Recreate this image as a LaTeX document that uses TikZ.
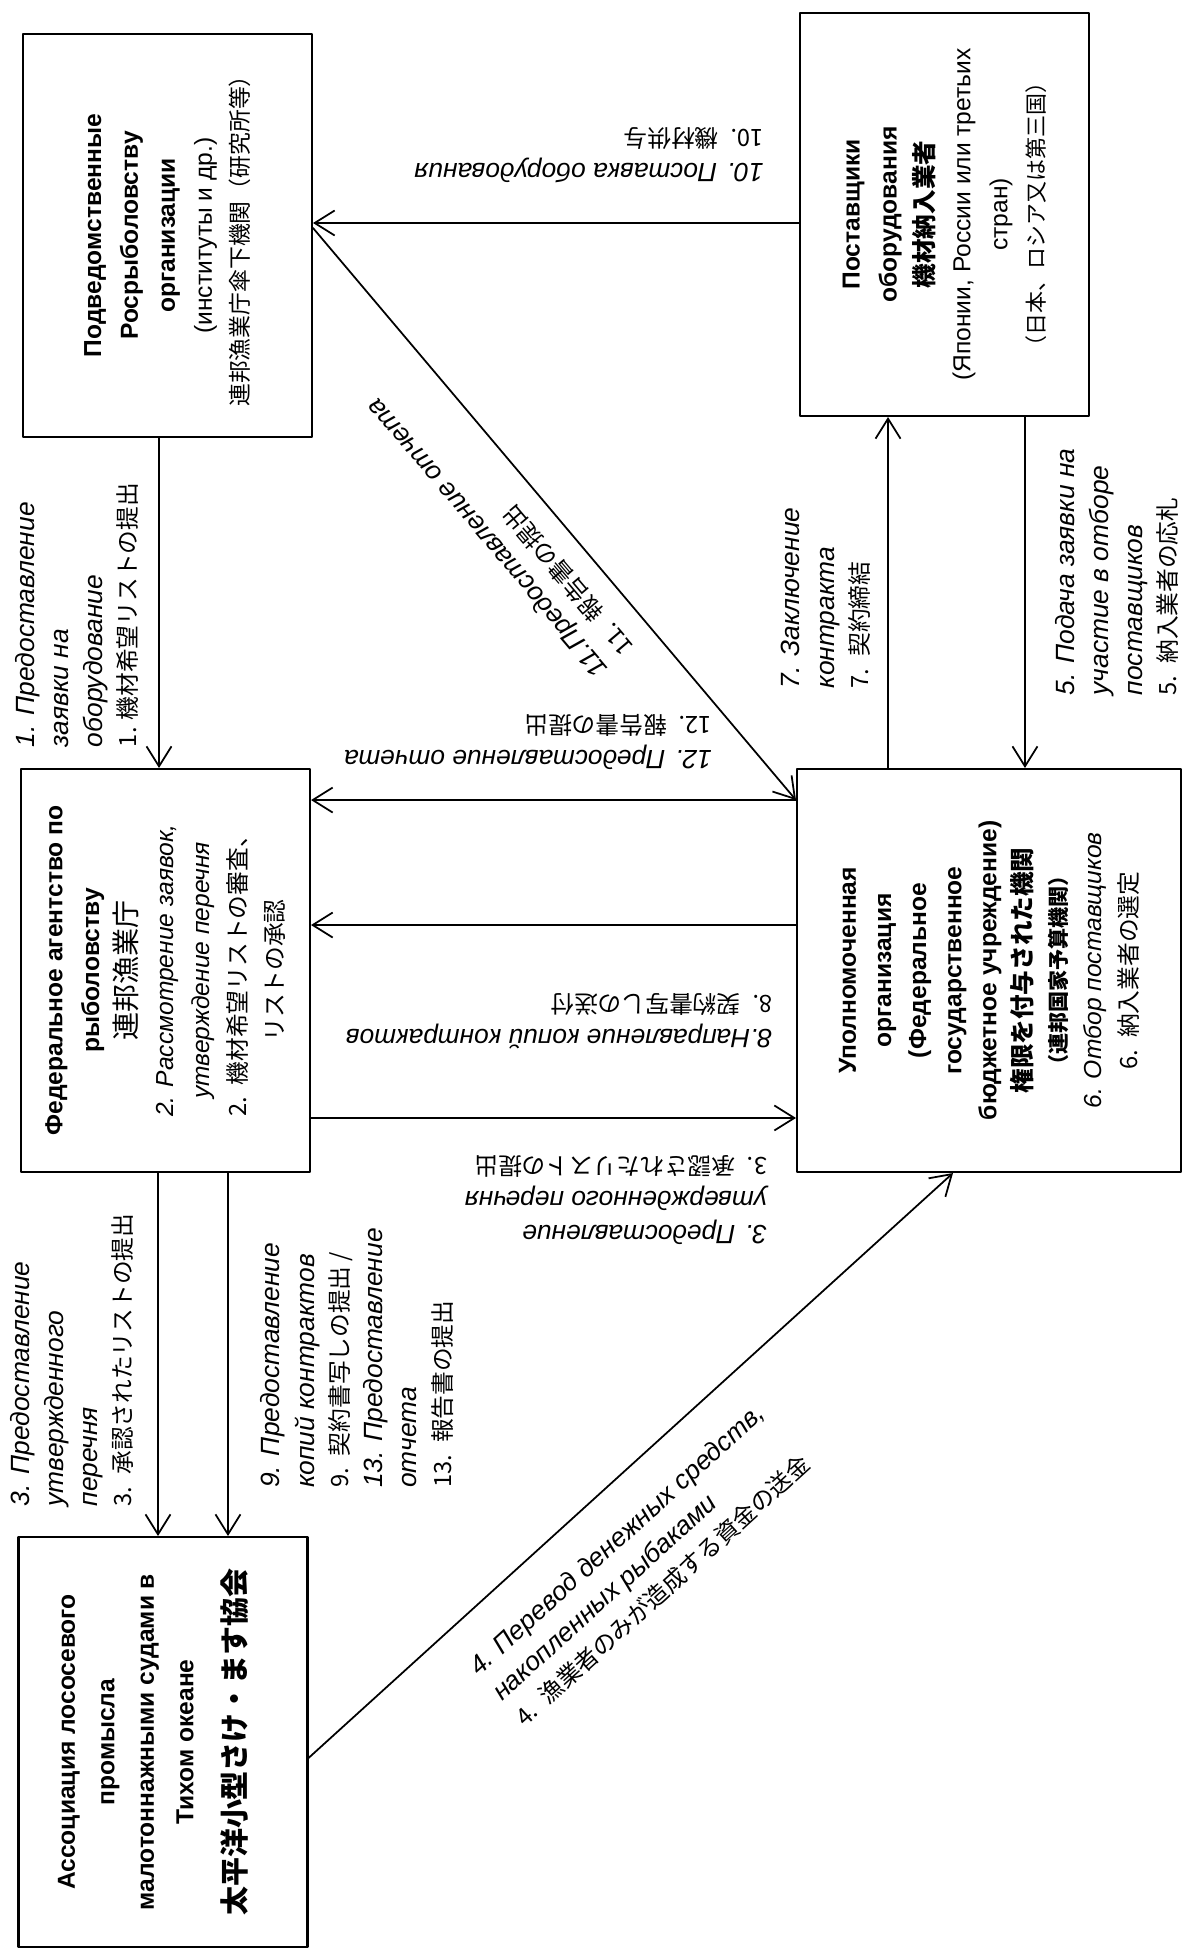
\documentclass[tikz,border=0pt]{standalone}
\usepackage{fontspec}
\setmainfont{Liberation Sans}
\newfontfamily\jp{Noto Sans CJK JP}
\usetikzlibrary{arrows.meta}
\newcommand{\jl}[1]{{\upshape\jp\fontsize{13.5}{19.5}\selectfont #1}}
\newcommand{\jb}[2]{{\jp\bfseries\fontsize{#1}{21}\selectfont #2}}
\tikzset{
  box/.style={draw,line width=1.2pt,minimum width=5.78cm,minimum height=8.06cm,inner sep=0pt},
  boxtxt/.style={rotate=90,align=center,inner sep=0pt,font=\fontsize{14}{21}\selectfont},
  lbl/.style={align=left,inner sep=0pt,font=\fontsize{15}{19.5}\selectfont\itshape},
  conn/.style={->,line width=1pt}
}

\begin{document}
\begin{tikzpicture}[line cap=round,line join=round,>={Straight Barb[length=4mm,width=5mm]},x=0.02cm,y=-0.02cm]
    \useasboundingbox (0,0) rectangle (1184,1954);
    \node[box] (sub) at (167.5,235.5) {};
    \node[box] (sup) at (944.5,214.5) {};
    \node[box] (fed) at (165.5,970.5) {};
    \node[box,minimum width=7.68cm] (upol) at (989,970.5) {};
    \node[box,minimum height=8.2cm] (assoc) at (163,1742) {};
    \node[boxtxt] (subtxt) at (sub) {\textbf{Подведомственные}\\ \textbf{Росрыболовству}\\ \textbf{организации}\\ (институты и др.)\\ {\jp\fontsize{13}{21}\selectfont 連邦漁業庁傘下機関（研究所等）}};
    \node[boxtxt] (suptxt) at (sup) {\textbf{Поставщики}\\ \textbf{оборудования}\\ \jb{14}{機材納入業者}\\ (Японии, России или третьих\\ стран)\\ {\jp\fontsize{12.5}{21}\selectfont （日本、ロシア又は第三国）}};
    \node[boxtxt] (fedtxt) at (fed) {\textbf{Федеральное агентство по}\\ \textbf{рыболовству}\\ {\jp\fontsize{16}{21}\selectfont 連邦漁業庁}\\ \textit{2. Рассмотрение заявок,}\\ \textit{утверждение перечня}\\ {\jp\fontsize{13.5}{21}\selectfont 2.\enspace 機材希望リストの審査、}\\ {\jp\fontsize{13.5}{21}\selectfont リストの承認}};
    \node[boxtxt,font=\fontsize{14}{20}\selectfont] (upoltxt) at (upol) {\textbf{Уполномоченная}\\ \textbf{организация}\\ \textbf{(Федеральное}\\ \textbf{государственное}\\ \textbf{бюджетное учреждение)}\\ \jb{14}{権限を付与された機関}\\ \jb{12}{（連邦国家予算機関）}\\ \textit{6. Отбор поставщиков}\\ {\jp\fontsize{13.5}{21}\selectfont 6.\enspace 納入業者の選定}};
    \node[boxtxt,font=\fontsize{14}{22.5}\selectfont] (assoctxt) at ([xshift=-0.2cm]assoc.center) {\textbf{Ассоциация лососевого}\\ \textbf{промысла}\\ \textbf{малотоннажными судами в}\\ \textbf{Тихом океане}\\[7pt] \jb{16.5}{太平洋小型さけ・ます協会}};
    \coordinate (a1s) at ([xshift=-0.17cm]sub.south);
    \coordinate (a10s) at ([yshift=-0.17cm]sup.west);
    \coordinate (a11s) at ([yshift=0.15cm]sub.east);
    \coordinate (a11e) at ([yshift=3.41cm]upol.west);
    \coordinate (a8s) at ([yshift=0.91cm]upol.west);
    \coordinate (a3s) at ([yshift=-2.95cm]fed.east);
    \coordinate (a7s) at ([xshift=-2.02cm]upol.north);
    \coordinate (a5s) at ([xshift=1.61cm]sup.south);
    \coordinate (a3v) at ([xshift=-0.15cm]fed.south);
    \coordinate (a9s) at ([xshift=1.25cm]fed.south);
    \coordinate (a4s) at ([yshift=-0.32cm]assoc.east);
    \coordinate (a4e) at ([xshift=-0.72cm]upol.south);
    \draw[conn] (a1s) -- (a1s |- fed.north);
    \draw[conn] (a10s) -- (a10s -| sub.east);
    \draw[conn] (a11s) -- (a11e);
    \draw[conn] (a11e) -- (a11e -| fed.east);
    \draw[conn] (a8s) -- (a8s -| fed.east);
    \draw[conn] (a3s) -- (a3s -| upol.west);
    \draw[conn] (a7s) -- (a7s |- sup.south);
    \draw[conn] (a5s) -- (a5s |- upol.north);
    \draw[conn] (a3v) -- (a3v |- assoc.north);
    \draw[conn] (a9s) -- (a9s |- assoc.north);
    \draw[conn] (a4s) -- (a4e);
    \node[lbl,rotate=90] (l1) at (77,615) {1. Предоставление\\ заявки на\\ оборудование\\ \jl{1. 機材希望リストの提出}};
    \node[lbl,rotate=90] (l7) at (826,598) {7. Заключение\\ контракта\\ \jl{7.\enspace 契約締結}};
    \node[lbl,rotate=90] (l5) at (1117,572) {5. Подача заявки на\\ участие в отборе\\ поставщиков\\ \jl{5.\enspace 納入業者の応札}};
    \node[lbl,rotate=90] (l3) at (72,1360) {3. Предоставление\\ утвержденного\\ перечня\\ \jl{3.\enspace 承認されたリストの提出}};
    \node[lbl,rotate=90] (l9) at (357,1358) {9. Предоставление\\ копий контрактов\\ \jl{9.\enspace 契約書写しの提出 /}\\ 13. Предоставление\\ отчета\\ \jl{13.\enspace 報告書の提出}};
    \node[lbl,rotate=180] (l10) at (589,155) {10. Поставка оборудования\\ \jl{10.\enspace 機材供与}};
    \node[lbl,rotate=180] (l12) at (528,742) {12. Предоставление отчета\\ \jl{12.\enspace 報告書の提出}};
    \node[lbl,rotate=180] (l8) at (559,1021) {8.Направление копий контрактов\\ \jl{8.\enspace 契約書写しの送付}};
    \node[lbl,rotate=180] (l3m) at (616,1200) {3. Предоставление\\ утвержденного перечня\\ \jl{3.\enspace 承認されたリストの提出}};
    \node[lbl,rotate=130.3] (l11) at (500,527) {11.Предоставление отчета\\ \jl{11.\enspace 報告書の提出}};
    \node[lbl,rotate=42.26] (l4) at (640,1565) {4. Перевод денежных средств,\\ накопленных рыбаками\\ \jl{4.\enspace 漁業者のみが造成する資金の送金}};
\end{tikzpicture}
\end{document}
